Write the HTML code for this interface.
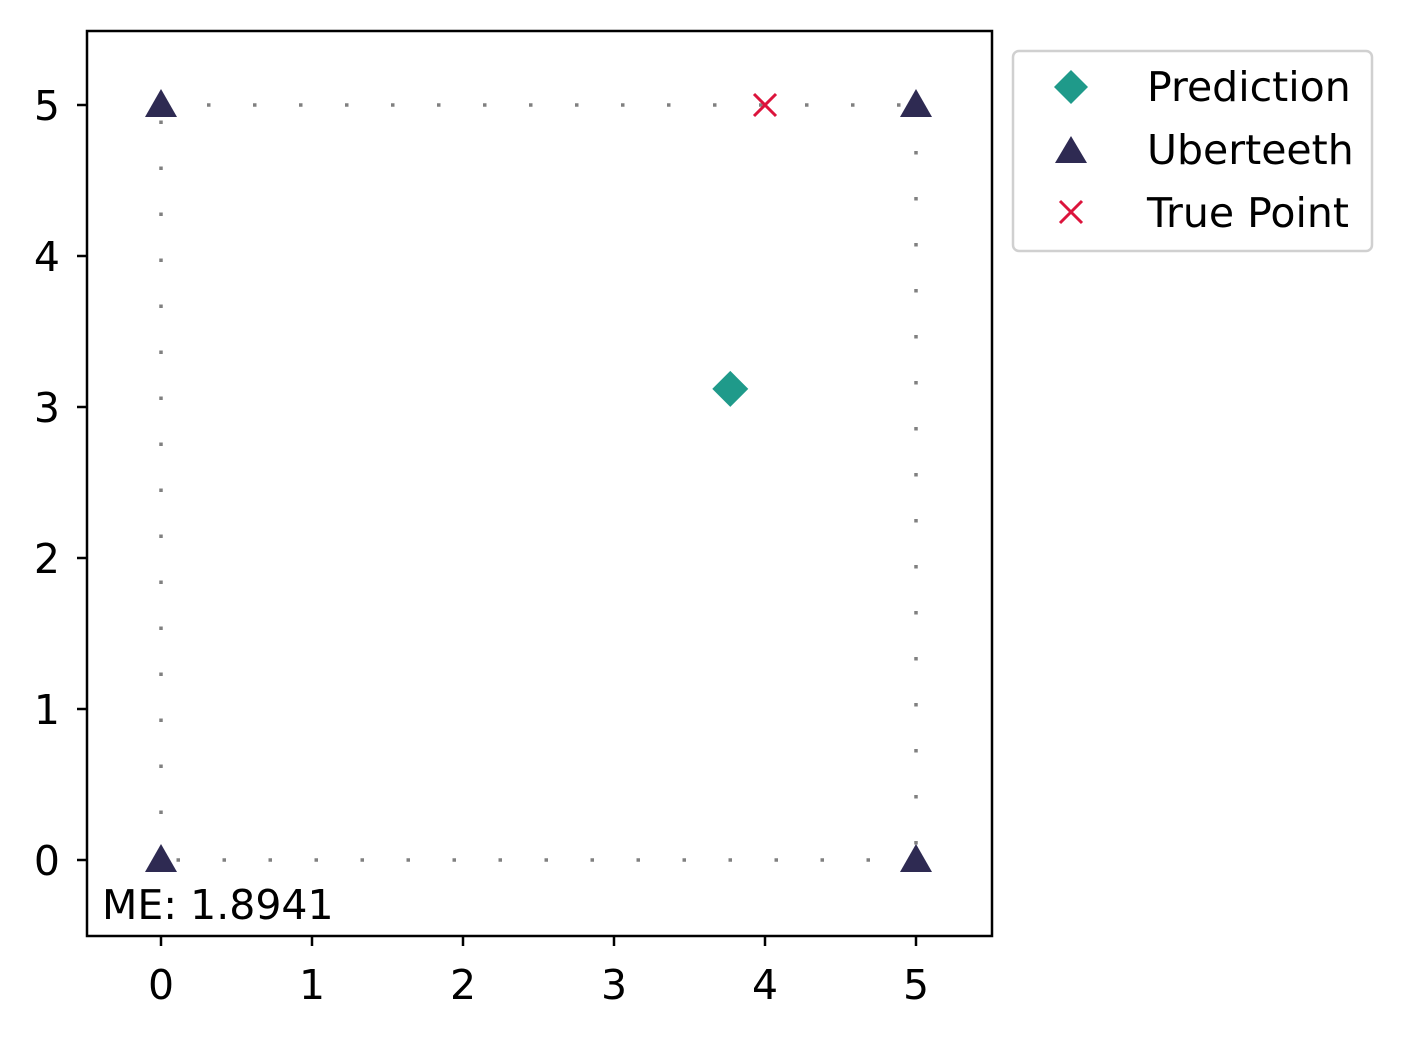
<!DOCTYPE html>
<html><head><meta charset="utf-8"><style>
body{margin:0;background:#fff;}
svg text{font-family:"DejaVu Sans","Liberation Sans",sans-serif;}
</style></head><body>
<svg id="chart" width="1402" height="1037" xmlns="http://www.w3.org/2000/svg">
<rect width="1402" height="1037" fill="#fff"/>
<g id="lines"></g>
<g id="marks"></g>
<rect x="87" y="31" width="905" height="905" fill="none" stroke="#000" stroke-width="2.5"/>
<g id="ticks"></g>
<text x="102" y="919" font-size="41">ME: 1.8941</text>
<g>
<rect x="1013" y="51" width="359" height="200" rx="6" fill="#fff" stroke="#d0d0d0" stroke-width="2.5"/>
<path d="M1071,70 L1088,87 L1071,104 L1054,87 Z" fill="#1f9a8a"/>
<text x="1147" y="101" font-size="41">Prediction</text>
<path d="M1071,136 L1087,163 L1055,163 Z" fill="#2e2a52"/>
<text x="1147" y="164" font-size="41">Uberteeth</text>
<path d="M1060,201 L1082,223 M1082,201 L1060,223" stroke="#dc143c" stroke-width="3"/>
<text x="1147" y="227" font-size="41">True Point</text>
</g>
</svg>
<script>
const uberX=[0,5,0,5];
const uberY=[5,5,0,0];
const predX=[3.77];
const predY=[3.12];
const trueX=[4];
const trueY=[5];
const ticks=[0,1,2,3,4,5];
const NS="http://www.w3.org/2000/svg";
const sx=v=>161+v*151, sy=v=>860-v*151;
function mk(tag,attrs,parent){const e=document.createElementNS(NS,tag);for(const k in attrs)e.setAttribute(k,attrs[k]);parent.appendChild(e);return e;}
const L=document.getElementById('lines'),M=document.getElementById('marks'),T=document.getElementById('ticks');
const edges=[[0,1],[1,3],[3,2],[2,0]];
edges.forEach(([a,b])=>{
 const l=mk('line',{x1:sx(uberX[a]),y1:sy(uberY[a]),x2:sx(uberX[b]),y2:sy(uberY[b]),stroke:'#808080','stroke-width':3.5,'stroke-dasharray':'3.5 42.5'},L);
 
 
});
uberX.forEach((x,i)=>{
 const cx=sx(x),cy=sy(uberY[i]);
 const p=mk('path',{d:`M${cx},${cy-16} L${cx+16},${cy+12} L${cx-16},${cy+12} Z`,fill:'#2e2a52'},M);
 
 
});
predX.forEach((x,i)=>{
 const cx=sx(x),cy=sy(predY[i]);
 const p=mk('path',{d:`M${cx},${cy-18} L${cx+18},${cy} L${cx},${cy+18} L${cx-18},${cy} Z`,fill:'#1f9a8a'},M);
 
 
});
trueX.forEach((x,i)=>{
 const cx=sx(x),cy=sy(trueY[i]);
 const p=mk('path',{d:`M${cx-11},${cy-11} L${cx+11},${cy+11} M${cx+11},${cy-11} L${cx-11},${cy+11}`,stroke:'#dc143c','stroke-width':3},M);
 
 
});
ticks.forEach(t=>{
 mk('line',{x1:sx(t),y1:936,x2:sx(t),y2:946,stroke:'#000','stroke-width':2.5},T);
 const tx=mk('text',{x:sx(t),y:999,'font-size':41,'text-anchor':'middle'},T);tx.textContent=t;
 
 
 mk('line',{x1:77,y1:sy(t),x2:87,y2:sy(t),stroke:'#000','stroke-width':2.5},T);
 const ty=mk('text',{x:60,y:sy(t)+15,'font-size':41,'text-anchor':'end'},T);ty.textContent=t;
 
 
});
</script>
</body></html>
